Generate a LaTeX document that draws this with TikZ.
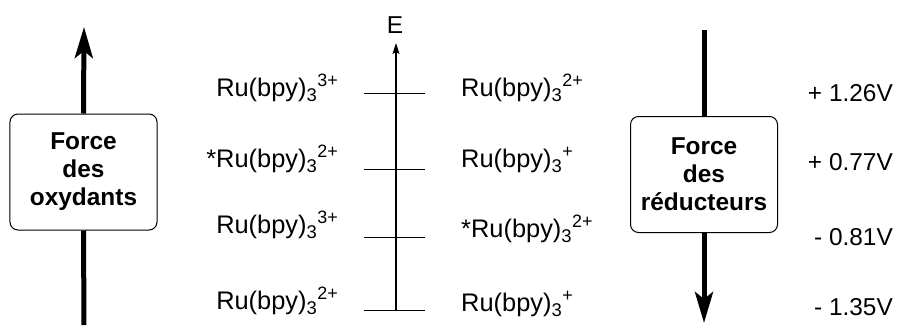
\documentclass[tikz,border=0pt]{standalone}
\usepackage{fontspec}
\setmainfont{Liberation Sans}
\usetikzlibrary{arrows.meta}
\tikzset{
  lbl/.style={font=\fontsize{24.5}{28}\selectfont, inner sep=0pt},
  volt/.style={font=\fontsize{24.5}{28}\selectfont, inner sep=0pt, anchor=base east},
  forcebox/.style={draw, line width=1bp, rounded corners=8bp, fill=white, align=center,
    minimum width=147bp, minimum height=116bp, inner sep=0pt,
    font=\fontsize{24.5}{28}\selectfont\bfseries},
  bigarrow/.style={line width=5bp, -{Stealth[length=31bp,width=18bp,inset=7bp]}},
  bigline/.style={line width=5bp},
  level/.style={line width=0.9bp},
  axis/.style={line width=1.2bp, -{Stealth[length=11bp,width=7bp,inset=2bp]}}
}
\newcommand{\rubpy}[2]{{\fontsize{25.5}{30}\selectfont #1Ru(bpy)\raisebox{-5.5bp}{\fontsize{18.5}{20}\selectfont 3}\kern0.5bp\raisebox{10bp}{\fontsize{18}{20}\selectfont #2}}}
\begin{document}
\begin{tikzpicture}[x=1bp,y=-1bp]
\useasboundingbox (0,0) rectangle (900,325);
% left force
\node[forcebox] (ox) at (83.5,172) {Force\\des\\oxydants};
\coordinate (oxbot) at (84,325);
\coordinate (oxtop) at (84,27);
\draw[bigline] (oxbot) -- (ox.south);
\draw[bigarrow] (ox.north) -- (oxtop);
% right force
\node[forcebox] (red) at (704,174.5) {Force\\des\\réducteurs};
\coordinate (redtop) at (704,30);
\coordinate (redbot) at (704,323);
\draw[bigline] (redtop) -- (red.north);
\draw[bigarrow] (red.south) -- (redbot);
% levels
\coordinate (l1a) at (364,93);  \coordinate (l1b) at (425,93);
\coordinate (l2a) at (364,169); \coordinate (l2b) at (425,169);
\coordinate (l3a) at (364,237); \coordinate (l3b) at (425,237);
\coordinate (l4a) at (364,310); \coordinate (l4b) at (425,310);
\draw[level] (l1a) -- (l1b);
\draw[level] (l2a) -- (l2b);
\draw[level] (l3a) -- (l3b);
\draw[level] (l4a) -- (l4b);
\coordinate (abot) at (396,310);
\node[lbl, anchor=base] (E) at (395,33) {E};
\coordinate (atop) at (396,43);
\draw[axis] (abot) -- (atop);
% left labels
\node[lbl, anchor=base east] (L1) at (338,96) {\rubpy{}{3+}};
\node[lbl, anchor=base east] (L2) at (338,167) {\rubpy{*}{2+}};
\node[lbl, anchor=base east] (L3) at (338,233) {\rubpy{}{3+}};
\node[lbl, anchor=base east] (L4) at (338,309) {\rubpy{}{2+}};
% right labels
\node[lbl, anchor=base west] (R1) at (461,96) {\rubpy{}{2+}};
\node[lbl, anchor=base west] (R2) at (461,167) {\rubpy{}{+}};
\node[lbl, anchor=base west] (R3) at (461,237) {\rubpy{*}{2+}};
\node[lbl, anchor=base west] (R4) at (461,311) {\rubpy{}{+}};
% voltages
\node[volt] (V1) at (893,101) {+ 1.26V};
\node[volt] (V2) at (893,170) {+ 0.77V};
\node[volt] (V3) at (893,245) {- 0.81V};
\node[volt] (V4) at (893,315) {- 1.35V};
\end{tikzpicture}
\end{document}
